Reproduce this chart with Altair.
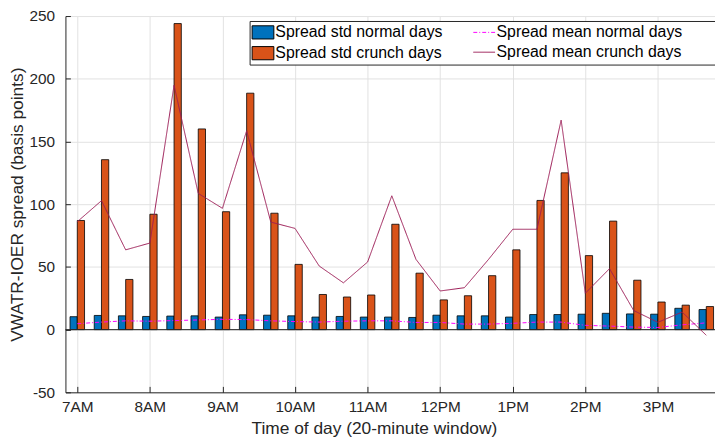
import altair as alt
import pandas as pd

# ---- data ----
HOUR_LABELS = ["7AM", "8AM", "9AM", "10AM", "11AM", "12PM", "1PM", "2PM", "3PM"]
STD_SERIES = ["Spread std normal days", "Spread std crunch days"]
MEAN_SERIES = ["Spread mean normal days", "Spread mean crunch days"]
STD_NORMAL = [10.3, 11.3, 11.0, 10.5, 10.8, 11.0, 10.0, 11.8, 11.5, 11.0, 10.0, 10.5, 10.0, 10.0,
              9.7, 11.5, 11.0, 11.0, 10.0, 12.0, 12.0, 12.3, 13.0, 12.5, 12.3, 17.0, 16.0]
STD_CRUNCH = [87, 135.5, 40, 92, 244, 160, 94, 188.5, 92.8, 52, 28, 26, 27.6, 84,
              45, 23.7, 27, 43, 63.6, 103, 125, 59, 86.5, 39.4, 22, 19.5, 18.4]
MEAN_NORMAL = [4.7, 6.0, 7.0, 6.7, 7.2, 7.7, 8.2, 8.0, 7.0, 6.4, 6.0, 6.7, 7.0, 7.0,
               5.7, 5.7, 4.4, 4.4, 5.0, 6.0, 6.0, 3.4, 2.8, 2.0, 1.7, 3.8, 5.4]
MEAN_CRUNCH = [86, 102.8, 63.6, 69, 194.8, 108.6, 96.7, 158.5, 85.7, 80.7, 50.7, 37.3, 53.9, 106.7,
               56, 30.8, 33.4, 56, 80, 80, 167, 29, 48.6, 15.2, 5.8, 14, -4.5]
BAR_COLORS = ["#0072BD", "#D95319"]
LINE_COLORS = ["#FF00FF", "#9B1B55"]
LINE_DASHES = [[4, 2, 1, 2], [1, 0]]

n = len(STD_NORMAL)
idx = list(range(n))
bars = pd.DataFrame({
    "idx": idx + idx,
    "value": STD_NORMAL + STD_CRUNCH,
    "series": [STD_SERIES[0]] * n + [STD_SERIES[1]] * n,
    "side": [-1] * n + [0] * n,
})
lines = pd.DataFrame({
    "idx": idx + idx,
    "value": MEAN_NORMAL + MEAN_CRUNCH,
    "series": [MEAN_SERIES[0]] * n + [MEAN_SERIES[1]] * n,
})
zero = pd.DataFrame({"y": [0]})

FONT = "Liberation Sans"
AX = "#262626"
BAR_W = 0.3
RECT = "M-1.22,-0.74H1.22V0.74H-1.22Z"
LINE = "M-1.22,0H1.22"

label_expr = "[" + ",".join("'%s'" % h for h in HOUR_LABELS) + "][round(datum.value/3)]"
X_TICKS = list(range(0, 25, 3))
Y_TICKS = list(range(-50, 251, 50))

xscale = alt.Scale(domain=[-0.49, 26.36], nice=False, zero=False)
yscale = alt.Scale(domain=[-50, 250], nice=False)

xaxis = alt.Axis(values=X_TICKS, labelExpr=label_expr,
                 title="Time of day (20-minute window)", titleX=311.5,
                 grid=True, ticks=False, labelPadding=7, titlePadding=5)
yaxis = alt.Axis(values=Y_TICKS, labelExpr="'' + datum.value",
                 title="VWATR-IOER spread (basis points)",
                 grid=True, ticks=False, labelPadding=11, titlePadding=2)
# inward-pointing tick marks (MATLAB style)
xticks_in = alt.Axis(values=X_TICKS, orient="bottom", offset=-6, tickSize=6, ticks=True,
                     labels=False, domain=False, grid=False, title=None,
                     tickColor=AX, tickWidth=1)
yticks_in = alt.Axis(values=Y_TICKS, orient="left", offset=-5, tickSize=5, ticks=True,
                     labels=False, domain=False, grid=False, title=None,
                     tickColor=AX, tickWidth=1)

common = dict(orient="none", direction="vertical", padding=2, rowPadding=2,
              labelOffset=3, symbolOffset=2, labelFont=FONT, labelFontSize=16,
              labelFontWeight="normal", labelColor="#000000", symbolSize=324,
              symbolStrokeWidth=1, labelLimit=400)

legend_bars = alt.Legend(
    title=" ", titleOrient="right", titlePadding=278, titleFontSize=4,
    legendX=186, legendY=5, symbolType=RECT, symbolStrokeColor="#000000",
    strokeColor=AX, fillColor="#ffffff", zindex=1, **common)

bar_layer = alt.Chart(bars).transform_calculate(
    x0="datum.idx + datum.side * %f" % BAR_W,
    x1="datum.idx + (datum.side + 1) * %f" % BAR_W,
).mark_bar(stroke="#000000", strokeWidth=0.8, opacity=1).encode(
    x=alt.X("x0:Q", scale=xscale, axis=xaxis),
    x2="x1:Q",
    y=alt.Y("value:Q", scale=yscale, axis=yaxis),
    y2=alt.datum(0),
    fill=alt.Fill("series:N", scale=alt.Scale(domain=STD_SERIES, range=BAR_COLORS),
                  legend=legend_bars),
)

zero_layer = alt.Chart(zero).mark_rule(color=AX, strokeWidth=1).encode(
    y=alt.Y("y:Q", scale=yscale, axis=yticks_in)
)


def mean_line(i):
    leg = alt.Legend(title=None, legendX=409.4, legendY=5 + 20 * i, symbolType=LINE,
                     symbolDash=LINE_DASHES[i], zindex=2, **common)
    return alt.Chart(lines).transform_filter(
        alt.datum.series == MEAN_SERIES[i]
    ).mark_line(strokeWidth=1, strokeDash=LINE_DASHES[i]).encode(
        x=alt.X("idx:Q", scale=xscale, axis=xticks_in if i == 0 else None),
        y=alt.Y("value:Q", scale=yscale, axis=None),
        stroke=alt.Stroke("series:N", scale=alt.Scale(domain=[MEAN_SERIES[i]],
                                                      range=[LINE_COLORS[i]]),
                          legend=leg),
    )


chart = alt.layer(bar_layer, zero_layer, mean_line(0), mean_line(1)).resolve_scale(
    stroke="independent"
).resolve_legend(
    fill="independent", stroke="independent"
).resolve_axis(
    x="independent", y="independent"
).properties(
    width=656, height=380, background="#ffffff",
    padding={"left": 58, "top": 6, "right": 0, "bottom": 44},
    autosize=alt.AutoSizeParams(type="none"),
).configure_view(stroke=None).configure_axis(
    labelFont=FONT, titleFont=FONT, labelFontSize=15.5, titleFontSize=17.5,
    titleFontWeight="normal", labelColor=AX, titleColor=AX,
    domainColor=AX, domainWidth=1, gridColor="#e2e2e2", gridWidth=1,
)

chart.save("out.html", embed_options={"renderer": "svg", "actions": False})
